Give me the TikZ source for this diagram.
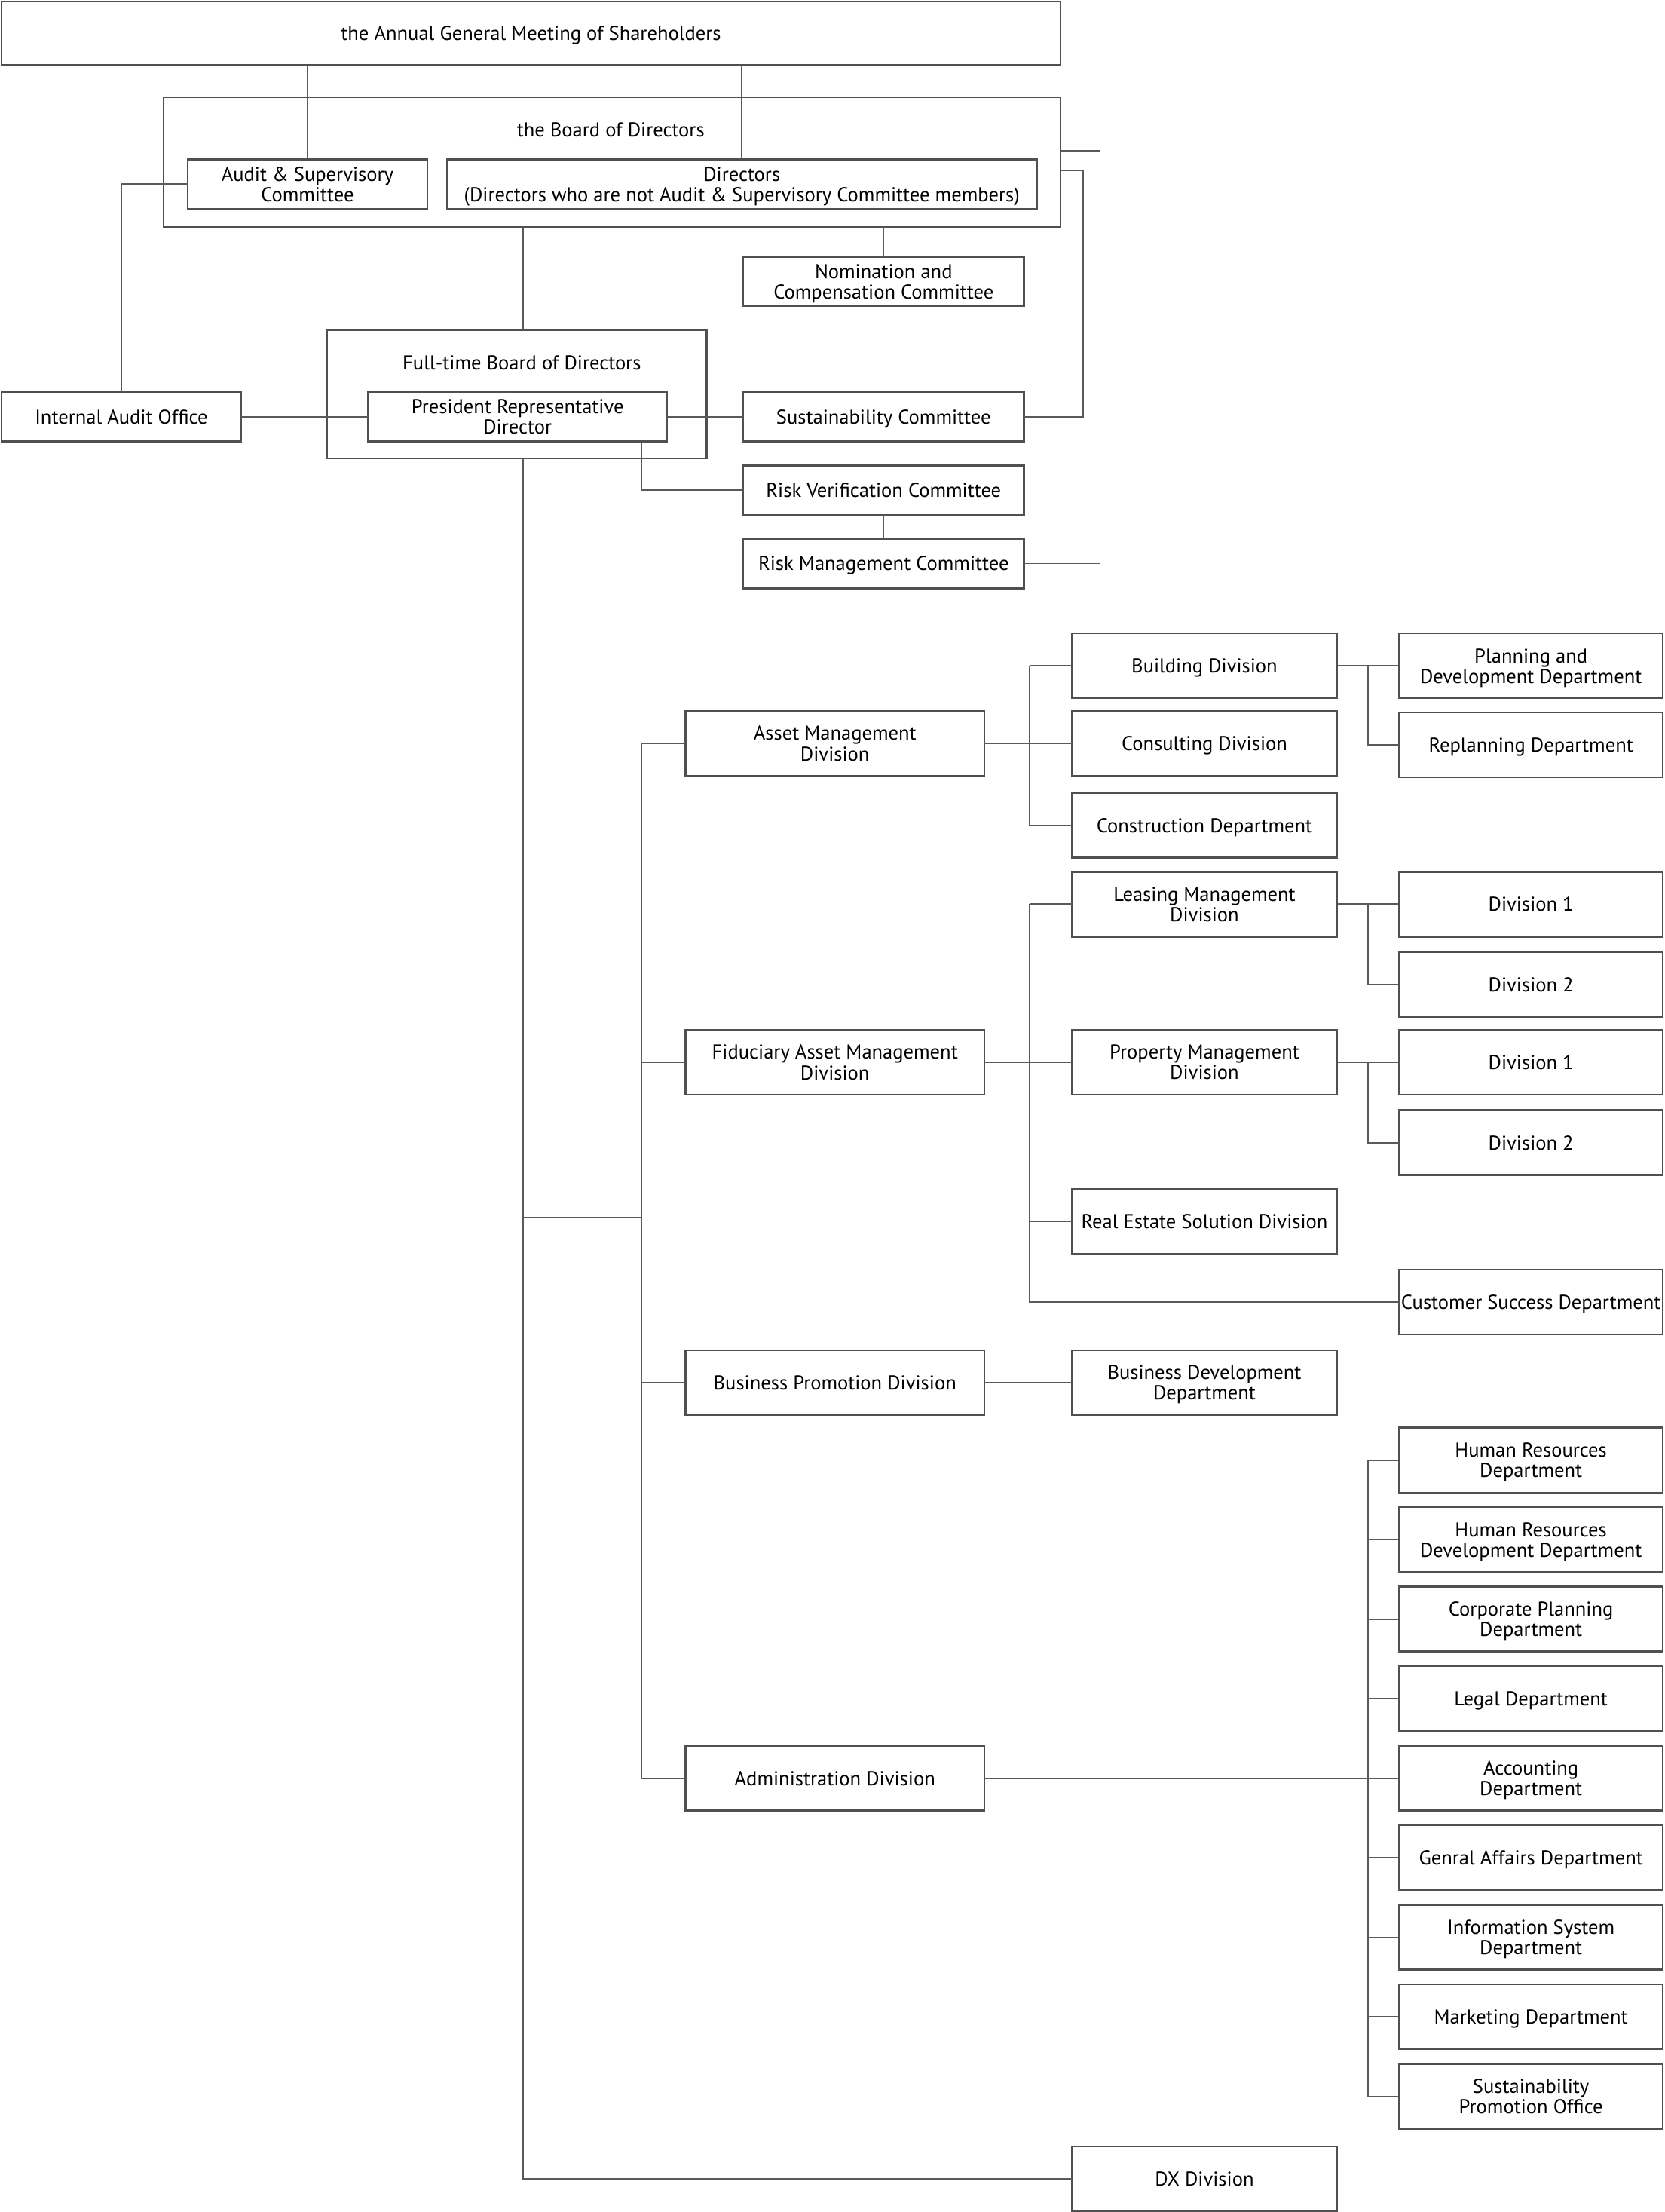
\documentclass[tikz,border=0pt]{standalone}
\usepackage{fontspec}
\setmainfont{PT Sans}
\usepackage{tikz}
\definecolor{boxgray}{HTML}{505050}
\definecolor{linkgray}{HTML}{5A5A5A}
\newcommand*\boxline{1.3pt}
\newcommand*\linkline{1pt}
\newcommand*\rowh{46pt}
\newcommand*\unitfont{\fontsize{14.2}{14.5}\selectfont}
\tikzset{
    unit/.style      = {draw=boxgray, line width=\boxline, fill=white,
                        inner sep=0pt, outer sep=0pt, align=center,
                        font=\unitfont, text=black, text depth=0pt},
    frame/.style     = {unit, fill=none},
    title/.style     = {font=\unitfont, text=black, inner sep=0pt, text depth=0pt},
    smallbox/.style  = {unit, minimum width=199pt, minimum height=35pt},
    divbox/.style    = {unit, minimum width=212pt, minimum height=\rowh},
    subbox/.style    = {unit, minimum width=188pt, minimum height=\rowh},
    deptbox/.style   = {unit, minimum width=187pt, minimum height=\rowh},
    link/.style      = {draw=linkgray, line width=\linkline},
}

\begin{document}
\begin{tikzpicture}[x=1pt, y=-1pt]
    \useasboundingbox (0,0) rectangle (1180.5,1568);

    % Governance boxes at the top
    \node[unit, minimum width=751pt, minimum height=45pt] (agm) at (376.5,23.5)
        {the Annual General Meeting of Shareholders};
    \node[frame, minimum width=636pt, minimum height=92pt] (board) at (434,115) {};
    \node[title] (boardtitle) at (433,92) {the Board of Directors};
    \node[unit, minimum width=170pt, minimum height=35pt] (audit) at (218,130.5)
        {Audit \& Supervisory\\Committee};
    \node[unit, minimum width=418pt, minimum height=35pt] (directors) at (526,130.5)
        {Directors\\(Directors who are not Audit \& Supervisory Committee members)};
    \node[smallbox] (nomination) at (626.5,199.5) {Nomination and\\Compensation Committee};

    \node[frame, minimum width=269pt, minimum height=91pt] (fulltime) at (366.5,279.5) {};
    \node[title] (fulltitle) at (370,257) {Full-time Board of Directors};
    \node[unit, minimum width=212pt, minimum height=35pt] (president) at (367,295.5)
        {President Representative\\Director};
    \node[unit, minimum width=170pt, minimum height=35pt] (internal) at (86,295.5)
        {Internal Audit Office};
    \node[smallbox] (sustain)  at (626.5,295.5) {Sustainability Committee};
    \node[smallbox] (riskver)  at (626.5,347.5) {Risk Verification Committee};
    \node[smallbox] (riskmgmt) at (626.5,399.5) {Risk Management Committee};

    % Bus positions
    \coordinate (trunk) at (371,0);
    \coordinate (rv)    at (455,0);
    \coordinate (loopA) at (780,107);
    \coordinate (loopB) at (768,121);
    \coordinate (busB)  at (455,863);
    \coordinate (busC)  at (730,0);
    \coordinate (busD)  at (970,0);

    % Divisions
    \node[divbox] (asset)     at (592,527)    {Asset Management\\Division};
    \node[divbox] (fiduciary) at (592,753)    {Fiduciary Asset Management\\Division};
    \node[divbox] (bizpromo)  at (592,980)    {Business Promotion Division};
    \node[divbox] (admin)     at (592,1260.5) {Administration Division};

    % Sub divisions
    \node[subbox] (building)     at (854,472)  {Building Division};
    \node[subbox] (consulting)   at (854,527)  {Consulting Division};
    \node[subbox] (construction) at (854,585)  {Construction Department};
    \node[subbox] (leasing)      at (854,641)  {Leasing Management\\Division};
    \node[subbox] (property)     at (854,753)  {Property Management\\Division};
    \node[subbox] (realestate)   at (854,866)  {Real Estate Solution Division};
    \node[subbox] (bizdev)       at (854,980)  {Business Development\\Department};
    \node[subbox] (dx)           at (854,1544.5) {DX Division};

    % Departments
    \node[deptbox] (plandev)  at (1085.5,472) {Planning and\\Development Department};
    \node[deptbox] (replan)   at (1085.5,528) {Replanning Department};
    \node[deptbox] (lm1)      at (1085.5,641) {Division 1};
    \node[deptbox] (lm2)      at (1085.5,698) {Division 2};
    \node[deptbox] (pm1)      at (1085.5,753) {Division 1};
    \node[deptbox] (pm2)      at (1085.5,810) {Division 2};
    \node[deptbox] (customer) at (1085.5,923) {Customer Success Department};
    \foreach \dept [count=\i from 0] in {{Human Resources\\Department},
            {Human Resources\\Development Department},
            {Corporate Planning\\Department}, {Legal Department},
            {Accounting\\Department}, {Genral Affairs Department},
            {Information System\\Department}, {Marketing Department},
            {Sustainability\\Promotion Office}} {
        \node[deptbox] (adm\i) at (1085.5,1035+56.375*\i) {\dept};
        \draw[link] (adm\i.west -| busD) -- (adm\i.west);
    }

    % Connectors among the governance boxes
    \draw[link] (agm.south -| audit.north) -- (audit.north);
    \draw[link] (agm.south -| directors.north) -- (directors.north);
    \draw[link] (board.south -| nomination.north) -- (nomination.north);
    \draw[link] (board.south -| trunk) -- (fulltime.north -| trunk);
    \draw[link] (internal.north) |- (audit.west);
    \draw[link] (internal.east) -- (president.west);
    \draw[link] (president.east) -- (sustain.west);
    \draw[link] (president.south -| rv) |- (riskver.west);
    \draw[link] (riskver.south) -- (riskmgmt.north);
    \draw[link] (board.east |- loopA) -- (loopA) |- (riskmgmt.east);
    \draw[link] (board.east |- loopB) -- (loopB) |- (sustain.east);

    % Trunk and division bus
    \draw[link] (fulltime.south -| trunk) |- (dx.west);
    \draw[link] (busB -| trunk) -- (busB);
    \draw[link] (asset.west -| busB) -- (admin.west -| busB);
    \foreach \n in {asset,fiduciary,bizpromo,admin} {
        \draw[link] (\n.west -| busB) -- (\n.west);
    }

    % Asset Management group
    \draw[link] (asset.east) -- (consulting.west);
    \draw[link] (building.west -| busC) -- (construction.west -| busC);
    \draw[link] (building.west -| busC) -- (building.west);
    \draw[link] (construction.west -| busC) -- (construction.west);
    \draw[link] (building.east) -- (plandev.west);
    \draw[link] (plandev.west -| busD) |- (replan.west);

    % Fiduciary Asset Management group
    \draw[link] (fiduciary.east) -- (property.west);
    \draw[link] (leasing.west -| busC) |- (customer.west);
    \draw[link] (leasing.west -| busC) -- (leasing.west);
    \draw[link] (realestate.west -| busC) -- (realestate.west);
    \draw[link] (leasing.east) -- (lm1.west);
    \draw[link] (lm1.west -| busD) |- (lm2.west);
    \draw[link] (property.east) -- (pm1.west);
    \draw[link] (pm1.west -| busD) |- (pm2.west);

    % Business Promotion and Administration
    \draw[link] (bizpromo.east) -- (bizdev.west);
    \draw[link] (admin.east) -- (adm4.west);
    \draw[link] (adm0.west -| busD) -- (adm8.west -| busD);
\end{tikzpicture}
\end{document}
